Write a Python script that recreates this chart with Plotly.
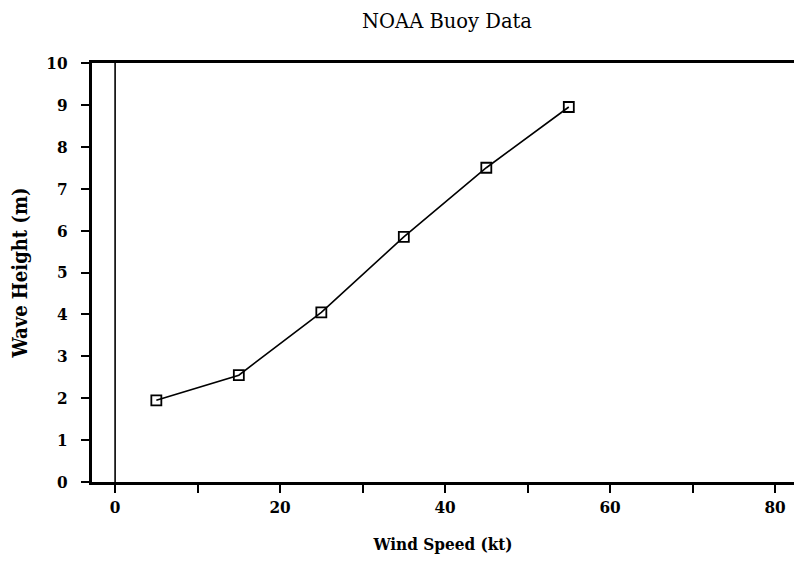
import plotly.graph_objects as go

# Buoy observations
wind_speed_kt = [5, 15, 25, 35, 45, 55]
wave_height_m = [1.95, 2.55, 4.05, 5.85, 7.5, 8.95]

x_tick_vals = [0, 10, 20, 30, 40, 50, 60, 70, 80]
x_tick_text = ["0", "", "20", "", "40", "", "60", "", "80"]
y_tick_vals = list(range(0, 11))

font_family = "DejaVu Serif Condensed, Liberation Serif, serif"

fig = go.Figure()

# Zero reference line on the x axis
fig.add_trace(go.Scatter(
    x=[0, 0], y=[0, 10], mode="lines",
    line=dict(color="black", width=1.6),
    hoverinfo="skip", showlegend=False,
))

fig.add_trace(go.Scatter(
    x=wind_speed_kt, y=wave_height_m,
    mode="lines+markers",
    line=dict(color="black", width=1.6),
    marker=dict(symbol="square-open", size=10, color="black",
                line=dict(color="black", width=1.8)),
    showlegend=False,
))

fig.update_layout(
    width=794, height=562,
    margin=dict(l=92, r=0, t=63, b=80),
    paper_bgcolor="white", plot_bgcolor="white",
    font=dict(family=font_family, color="black", size=16, weight="bold"),
    title=dict(text="NOAA Buoy Data", x=0.563, xanchor="center",
               y=0.962, yanchor="middle",
               font=dict(family="DejaVu Serif, serif", size=19.5, weight="normal")),
)

fig.update_xaxes(
    range=[-2.8, 82.3],
    tickvals=x_tick_vals, ticktext=x_tick_text,
    ticks="outside", ticklen=8, tickwidth=1.5, tickcolor="black",
    showline=True, linecolor="black", linewidth=3, mirror=True,
    showgrid=False, zeroline=False,
    title=dict(text="Wind Speed (kt)", standoff=22,
               font=dict(size=17, weight="bold")),
    tickfont=dict(size=17, weight="bold"),
)

fig.update_yaxes(
    range=[0, 10],
    tickvals=y_tick_vals,
    ticks="outside", ticklen=8, tickwidth=1.5, tickcolor="black",
    showline=True, linecolor="black", linewidth=3,
    showgrid=False, zeroline=False,
    ticklabelstandoff=10,
    title=dict(text="Wave Height (m)", standoff=14,
               font=dict(size=20, weight="bold")),
    tickfont=dict(size=17, weight="bold"),
)

fig.write_html("out.html")
